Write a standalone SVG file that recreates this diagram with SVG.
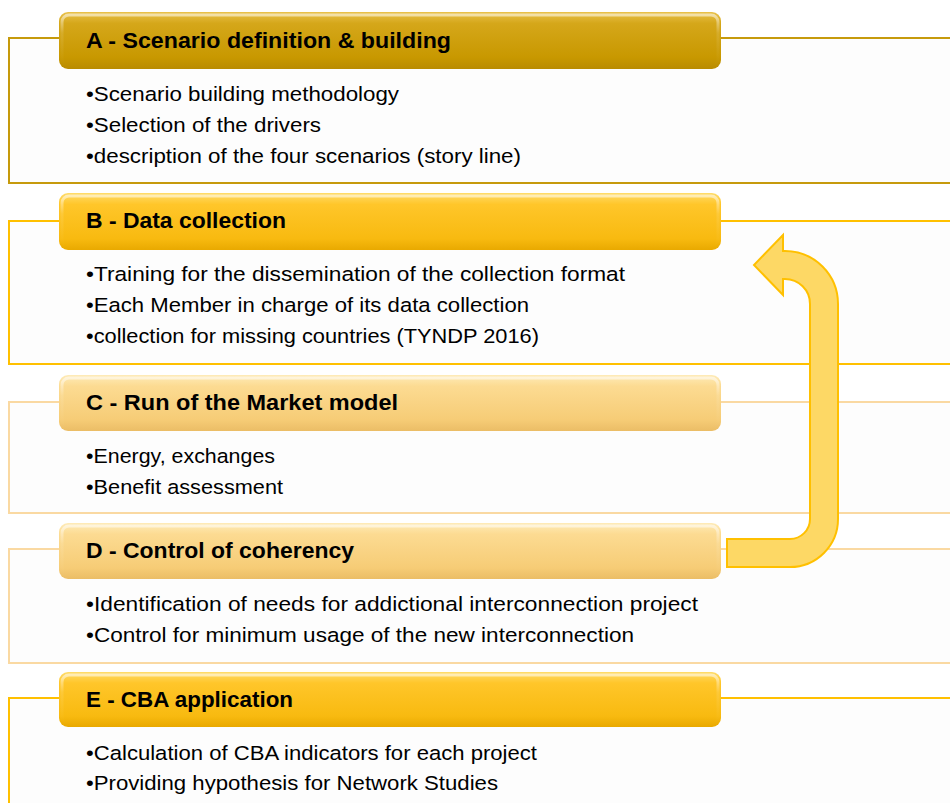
<svg xmlns="http://www.w3.org/2000/svg" width="950" height="803" viewBox="0 0 950 803">
<defs>
<linearGradient id="gA" x1="0" y1="0" x2="0" y2="1">
<stop offset="0" stop-color="#E9C14A"/><stop offset="0.2" stop-color="#D5A71A"/><stop offset="0.8" stop-color="#C89800"/><stop offset="1" stop-color="#B98B00"/>
</linearGradient>
<linearGradient id="gB" x1="0" y1="0" x2="0" y2="1">
<stop offset="0" stop-color="#FFDC6A"/><stop offset="0.2" stop-color="#FFC62A"/><stop offset="0.8" stop-color="#F8BA10"/><stop offset="1" stop-color="#E9A900"/>
</linearGradient>
<linearGradient id="gC" x1="0" y1="0" x2="0" y2="1">
<stop offset="0" stop-color="#FEEBB8"/><stop offset="0.2" stop-color="#FCDB92"/><stop offset="0.8" stop-color="#F6CC76"/><stop offset="1" stop-color="#EBBD66"/>
</linearGradient>
<linearGradient id="gHi" x1="0" y1="0" x2="0" y2="1">
<stop offset="0" stop-color="#FFFFFF" stop-opacity="0.55"/><stop offset="0.35" stop-color="#FFFFFF" stop-opacity="0.1"/><stop offset="1" stop-color="#FFFFFF" stop-opacity="0"/>
</linearGradient>
</defs>
<style>
.panel{fill:#FDFDFD;stroke-width:2}
.pA{stroke:#C69A0C}
.pB{stroke:#FFC000}
.pC{stroke:#FAD9A2}
.hdr{stroke:none}
.hi{fill:none;stroke:url(#gHi);stroke-width:3}
.ht{font-family:"Liberation Sans",Arial,sans-serif;font-weight:bold;font-size:21.5px;fill:#000}
.bt{font-family:"Liberation Sans",Arial,sans-serif;font-size:20.5px;fill:#000}
.arrow{fill:#FDD865;stroke:#FFC000;stroke-width:2;stroke-linejoin:miter}
</style>

<g id="nodeA">
<rect class="panel pA" x="9" y="38" width="960" height="145"/>
<rect class="hdr" x="59" y="12" width="662" height="57" rx="9" fill="url(#gA)"/>
<rect class="hi" x="62" y="15" width="656" height="51" rx="7"/>
<text class="ht" x="86" y="48" textLength="365" lengthAdjust="spacingAndGlyphs">A - Scenario definition &amp; building</text>
<text class="bt" x="86" y="100.5" textLength="313" lengthAdjust="spacingAndGlyphs">•Scenario building methodology</text>
<text class="bt" x="86" y="131.5" textLength="235" lengthAdjust="spacingAndGlyphs">•Selection of the drivers</text>
<text class="bt" x="86" y="162.5" textLength="435" lengthAdjust="spacingAndGlyphs">•description of the four scenarios (story line)</text>
</g>

<g id="nodeB">
<rect class="panel pB" x="9" y="221" width="960" height="143"/>
<rect class="hdr" x="59" y="193" width="662" height="57" rx="9" fill="url(#gB)"/>
<rect class="hi" x="62" y="196" width="656" height="51" rx="7"/>
<text class="ht" x="86" y="228" textLength="200" lengthAdjust="spacingAndGlyphs">B - Data collection</text>
<text class="bt" x="86" y="280.5" textLength="539" lengthAdjust="spacingAndGlyphs">•Training for the dissemination of the collection format</text>
<text class="bt" x="86" y="311.5" textLength="443" lengthAdjust="spacingAndGlyphs">•Each Member in charge of its data collection</text>
<text class="bt" x="86" y="342.5" textLength="453" lengthAdjust="spacingAndGlyphs">•collection for missing countries (TYNDP 2016)</text>
</g>

<g id="nodeC">
<rect class="panel pC" x="9" y="402" width="960" height="111"/>
<rect class="hdr" x="59" y="375" width="662" height="56" rx="9" fill="url(#gC)"/>
<rect class="hi" x="62" y="378" width="656" height="50" rx="7"/>
<text class="ht" x="86" y="410" textLength="312" lengthAdjust="spacingAndGlyphs">C - Run of the Market model</text>
<text class="bt" x="86" y="462.5" textLength="189" lengthAdjust="spacingAndGlyphs">•Energy, exchanges</text>
<text class="bt" x="86" y="493.5" textLength="197" lengthAdjust="spacingAndGlyphs">•Benefit assessment</text>
</g>

<g id="nodeD">
<rect class="panel pC" x="9" y="549" width="960" height="114"/>
<rect class="hdr" x="59" y="523" width="662" height="56" rx="9" fill="url(#gC)"/>
<rect class="hi" x="62" y="526" width="656" height="50" rx="7"/>
<text class="ht" x="86" y="558" textLength="268" lengthAdjust="spacingAndGlyphs">D - Control of coherency</text>
<text class="bt" x="86" y="610.5" textLength="612" lengthAdjust="spacingAndGlyphs">•Identification of needs for addictional interconnection project</text>
<text class="bt" x="86" y="641.5" textLength="548" lengthAdjust="spacingAndGlyphs">•Control for minimum usage of the new interconnection</text>
</g>

<g id="nodeE">
<rect class="panel pB" x="9" y="698" width="960" height="130"/>
<rect class="hdr" x="59" y="672" width="662" height="55" rx="9" fill="url(#gB)"/>
<rect class="hi" x="62" y="675" width="656" height="49" rx="7"/>
<text class="ht" x="86" y="707" textLength="207" lengthAdjust="spacingAndGlyphs">E - CBA application</text>
<text class="bt" x="86" y="759.5" textLength="451" lengthAdjust="spacingAndGlyphs">•Calculation of CBA indicators for each project</text>
<text class="bt" x="86" y="789.5" textLength="412" lengthAdjust="spacingAndGlyphs">•Providing hypothesis for Network Studies</text>
</g>

<g id="connectors">
<path class="arrow" d="M 727 539 L 790 539 A 20 20 0 0 0 810 519 L 810 304 A 25 25 0 0 0 785 279 L 783 279 L 783 295 L 754 265 L 783 235 L 783 251 L 785 251 A 53 53 0 0 1 838 304 L 838 519 A 48 48 0 0 1 790 567 L 727 567 Z"/>
</g>
</svg>
